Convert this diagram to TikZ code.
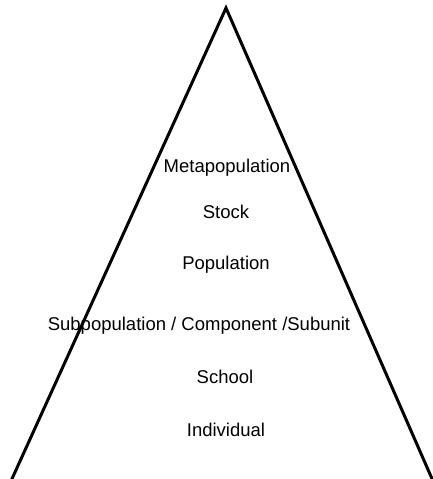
\documentclass[tikz,border=0pt]{standalone}
\usepackage{fontspec}
\setmainfont{Liberation Sans}

\begin{document}
\begin{tikzpicture}[x=1pt,y=-1pt]
  \tikzset{level/.style={font=\fontsize{18.5}{22}\selectfont, inner sep=0pt}}
  \useasboundingbox (0,0) rectangle (433,479);

  \coordinate (apex) at (226,8);
  \coordinate (baseL) at (11,481);
  \coordinate (baseR) at (433,481);
  \draw[line width=3pt] (baseL) -- (apex) -- (baseR);

  \node[level] (meta) at (227,168) {Metapopulation};
  \node[level] (stock) at (226,212) {Stock};
  \node[level] (pop) at (226,265) {Population};
  \node[level] (subpop) at (199,326) {Subpopulation / Component /Subunit};
  \node[level] (school) at (225,377) {School};
  \node[level] (indiv) at (226,430) {Individual};

\end{tikzpicture}
\end{document}
